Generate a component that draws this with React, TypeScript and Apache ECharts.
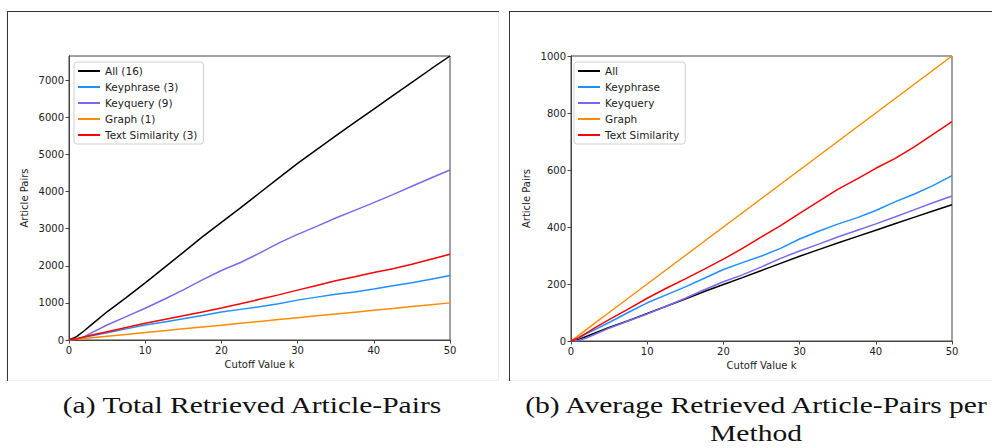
import React, { useEffect, useRef } from "react";
import * as echarts from "echarts";

const cutoffK = [0, 1, 2, 3, 5, 7.5, 10, 12.5, 15, 17.5, 20, 22.5, 25, 27.5, 30, 32.5, 35, 37.5, 40, 42.5, 45, 47.5, 50];

// Total retrieved article pairs per method group (left chart)
const allTotal = [0, 90, 250, 420, 760, 1140, 1540, 1950, 2360, 2780, 3170, 3560, 3960, 4360, 4760, 5130, 5500, 5860, 6220, 6580, 6940, 7300, 7650];
const keyphraseTotal = [0, 30, 75, 114, 195, 300, 402, 486, 570, 660, 753, 825, 894, 975, 1074, 1155, 1230, 1296, 1374, 1464, 1545, 1635, 1740];
const keyqueryTotal = [0, 18, 90, 198, 405, 630, 855, 1098, 1350, 1620, 1872, 2088, 2340, 2610, 2844, 3060, 3285, 3492, 3699, 3915, 4140, 4365, 4581];
const graphTotal = [0, 20, 40, 60, 100, 150, 200, 250, 300, 350, 400, 450, 500, 550, 600, 650, 700, 750, 800, 850, 900, 950, 1000];
const textSimTotal = [0, 36, 84, 132, 225, 336, 450, 555, 654, 756, 861, 975, 1095, 1215, 1344, 1470, 1596, 1704, 1818, 1920, 2040, 2175, 2310];

const methodNames = ["All", "Keyphrase", "Keyquery", "Graph", "Text Similarity"];
const methodCounts = [16, 3, 9, 1, 3];
const methodColors = ["#000000", "#1E90FF", "#7B68EE", "#FF8C00", "#FF0000"];
const totals = [allTotal, keyphraseTotal, keyqueryTotal, graphTotal, textSimTotal];

const leftYTicks = { min: 0, interval: 1000 };
const rightYTicks = { min: 0, max: 1000, interval: 200 };
const xTicks = { min: 0, max: 50, interval: 10 };

const captionA = "(a) Total Retrieved Article-Pairs";
const captionB = "(b) Average Retrieved Article-Pairs per\nMethod";

const FONT = "DejaVu Sans";
const TXT = "#222";
const SPINE = "#444";

export default function App() {
  const ref = useRef<HTMLDivElement>(null);
  useEffect(() => {
    if (!ref.current) return;
    const chart = echarts.init(ref.current, undefined, { renderer: "svg" });

    const plain = (v: number) => String(v);

    const xAxisBase = (gridIndex: number) => ({
      type: "value",
      gridIndex,
      ...xTicks,
      name: "Cutoff Value k",
      nameLocation: "middle",
      nameGap: 19,
      nameTextStyle: { fontFamily: FONT, fontSize: 10, color: TXT },
      axisLine: { show: true, onZero: false, lineStyle: { color: SPINE, width: 1 } },
      axisTick: { show: true, inside: false, length: 3.5, lineStyle: { color: SPINE } },
      axisLabel: { fontFamily: FONT, fontSize: 10, color: TXT, margin: 5, formatter: plain },
      splitLine: { show: false },
    });
    const yAxisBase = (gridIndex: number, ticks: any, showMax: boolean) => ({
      type: "value",
      gridIndex,
      ...ticks,
      name: "Article Pairs",
      nameLocation: "middle",
      nameGap: 40,
      nameTextStyle: { fontFamily: FONT, fontSize: 10, color: TXT },
      axisLine: { show: true, lineStyle: { color: SPINE, width: 1 } },
      axisTick: { show: true, inside: false, length: 3.5, lineStyle: { color: SPINE } },
      axisLabel: { fontFamily: FONT, fontSize: 10, color: TXT, margin: 5, showMaxLabel: showMax, formatter: plain },
      splitLine: { show: false },
    });

    const series: any[] = [];
    methodNames.forEach((name, i) => {
      series.push({
        type: "line",
        name: `${name} (${methodCounts[i]})`,
        xAxisIndex: 0,
        yAxisIndex: 0,
        symbol: "none",
        lineStyle: { color: methodColors[i], width: 1.5 },
        itemStyle: { color: methodColors[i] },
        data: cutoffK.map((k, j) => [k, totals[i][j]]),
      });
    });
    methodNames.forEach((name, i) => {
      series.push({
        type: "line",
        name,
        xAxisIndex: 1,
        yAxisIndex: 1,
        symbol: "none",
        lineStyle: { color: methodColors[i], width: 1.5 },
        itemStyle: { color: methodColors[i] },
        data: cutoffK.map((k, j) => [k, totals[i][j] / methodCounts[i]]),
      });
    });

    const legendBase = {
      orient: "vertical",
      top: 62,
      icon: "rect",
      itemWidth: 22,
      itemHeight: 2,
      itemGap: 4,
      padding: [3, 6, 3, 4],
      borderColor: "#d0d0d0",
      borderWidth: 1,
      borderRadius: 3,
      backgroundColor: "#ffffff",
      textStyle: { fontFamily: FONT, fontSize: 10.5, color: TXT, lineHeight: 12, height: 12 },
      selectedMode: false,
    };

    const captionStyle = { fontFamily: "Liberation Serif", fontSize: 24, fill: "#111", textAlign: "center", lineHeight: 28 };

    chart.setOption({
      animation: false,
      backgroundColor: "#ffffff",
      grid: [
        { left: 69, top: 56, width: 381, height: 284, show: true, borderColor: SPINE, borderWidth: 1, backgroundColor: "transparent" },
        { left: 571, top: 56, width: 381, height: 285, show: true, borderColor: SPINE, borderWidth: 1, backgroundColor: "transparent" },
      ],
      xAxis: [xAxisBase(0), xAxisBase(1)],
      yAxis: [
        yAxisBase(0, { ...leftYTicks, max: "dataMax" }, false),
        yAxisBase(1, rightYTicks, true),
      ],
      legend: [
        { ...legendBase, left: 74, data: methodNames.map((n, i) => `${n} (${methodCounts[i]})`) },
        { ...legendBase, left: 574, data: methodNames },
      ],
      series,
      graphic: [
        { type: "line", shape: { x1: 7.5, y1: 11, x2: 7.5, y2: 381 }, style: { stroke: "#333", lineWidth: 1 } },
        { type: "line", shape: { x1: 7, y1: 11.5, x2: 499, y2: 11.5 }, style: { stroke: "#333", lineWidth: 1 } },
        { type: "line", shape: { x1: 498.5, y1: 12, x2: 498.5, y2: 380 }, style: { stroke: "#ececec", lineWidth: 1 } },
        { type: "line", shape: { x1: 8, y1: 380.5, x2: 498, y2: 380.5 }, style: { stroke: "#ececec", lineWidth: 1 } },
        { type: "line", shape: { x1: 509.5, y1: 11, x2: 509.5, y2: 381 }, style: { stroke: "#333", lineWidth: 1 } },
        { type: "line", shape: { x1: 509, y1: 11.5, x2: 992, y2: 11.5 }, style: { stroke: "#333", lineWidth: 1 } },
        { type: "line", shape: { x1: 510, y1: 380.5, x2: 992, y2: 380.5 }, style: { stroke: "#ececec", lineWidth: 1 } },
        { type: "text", x: 252, y: 391, scaleX: 1.23, style: { ...captionStyle, text: captionA, textVerticalAlign: "top" } },
        { type: "text", x: 756, y: 391, scaleX: 1.23, style: { ...captionStyle, text: captionB, textVerticalAlign: "top" } },
      ],
    });
    return () => chart.dispose();
  }, []);
  return <div ref={ref} style={{ position: "absolute", left: 0, top: 0, width: 992, height: 448 }} />;
}
